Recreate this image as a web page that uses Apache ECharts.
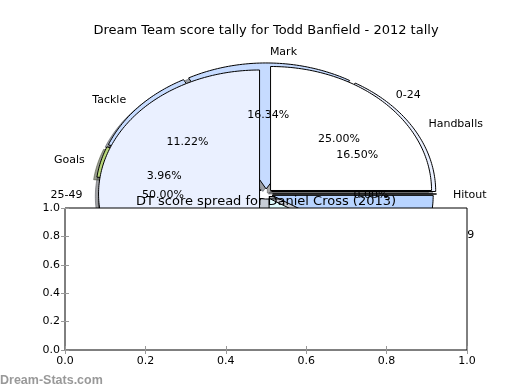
<!DOCTYPE html>
<html><head><meta charset="utf-8">
<script src="https://cdn.jsdelivr.net/npm/echarts@6/dist/echarts.min.js"></script>
<style>html,body{margin:0;padding:0;background:#fff}#c{width:520px;height:390px}</style>
</head><body><div id="c"></div>
<script>
// ---- data ----
const statLabels = ['Handballs', 'Mark', 'Tackle', 'Goals', 'Kicks', 'Hitout'];
const statPercents = [16.50, 16.34, 11.22, 3.96, 51.98, 0.00];
const statColors = ['#eaf0ff', '#c6dbff', '#c6dbff', '#b8d67a', '#c8cdd6', '#b8d4ff'];
const scoreLabels = ['0-24', '25-49', '50-74', '75-99'];
const scorePercents = [25.00, 50.00, 16.00, 9.00];
const scoreColors = ['#ffffff', '#eaf0ff', '#e0fcff', '#b8d4ff'];
const tickValues = [0, 0.2, 0.4, 0.6, 0.8, 1.0];
const tickLabels = ['0.0', '0.2', '0.4', '0.6', '0.8', '1.0'];

// ---- layout ----
const CX = 266, CY = 194;
const EXPLODE = 0.04, SHADOW = 0.02, LABEL_DIST = 1.1, PCT_DIST = 0.6, TEXT_DY = 1.5;
const FONT = '"DejaVu Sans", sans-serif';

function shadowColor(hex) {
  const n = parseInt(hex.slice(1), 16);
  const r = Math.round(((n >> 16) & 255) * 0.3), g = Math.round(((n >> 8) & 255) * 0.3), b = Math.round((n & 255) * 0.3);
  return 'rgba(' + r + ',' + g + ',' + b + ',0.5)';
}

function makePie(labels, values, colors, RX, RY, wedgeZ) {
  const total = values.reduce((a, b) => a + b, 0);
  const starts = [];
  let acc = 0;
  values.forEach(v => { starts.push(acc / total * 360); acc += v; });
  return {
    type: 'custom',
    coordinateSystem: 'none',
    silent: true,
    z: 1,
    data: values.map((v, i) => [i, v]),
    renderItem: function (params, api) {
      const i = params.dataIndex;
      const v = api.value(1);
      const t1 = starts[i];
      const t2 = t1 + v / total * 360;
      const tm = (t1 + t2) / 2 * Math.PI / 180;
      const ox = CX + EXPLODE * RX * Math.cos(tm);
      const oy = CY - EXPLODE * RY * Math.sin(tm);
      const pts = [[ox, oy]];
      const n = Math.max(2, Math.ceil(t2 - t1));
      for (let k = 0; k <= n; k++) {
        const a = (t1 + (t2 - t1) * k / n) * Math.PI / 180;
        pts.push([ox + RX * Math.cos(a), oy - RY * Math.sin(a)]);
      }
      const sh = pts.map(p => [p[0] - SHADOW * RX, p[1] + SHADOW * RY]);
      const sc = shadowColor(colors[i]);
      const lx = ox + LABEL_DIST * RX * Math.cos(tm);
      const ly = oy - LABEL_DIST * RY * Math.sin(tm) + TEXT_DY;
      const px = ox + PCT_DIST * RX * Math.cos(tm);
      const py = oy - PCT_DIST * RY * Math.sin(tm) + TEXT_DY;
      return {
        type: 'group',
        children: [
          { type: 'polygon', z2: 0, shape: { points: sh }, style: { fill: sc, stroke: sc, lineWidth: 1 } },
          { type: 'polygon', z2: wedgeZ, shape: { points: pts }, style: { fill: colors[i], stroke: '#000', lineWidth: 1, lineJoin: 'miter' } },
          { type: 'text', z2: 10, x: lx, y: ly, style: { text: labels[i], font: '11px ' + FONT, fill: '#000', align: (lx - CX) > 0 ? 'left' : 'right', verticalAlign: 'middle' } },
          { type: 'text', z2: 10, x: px, y: py, style: { text: (v / total * 100).toFixed(2) + '%', font: '11px ' + FONT, fill: '#000', align: 'center', verticalAlign: 'middle' } }
        ]
      };
    }
  };
}

const axisCommon = {
  type: 'value', min: 0, max: 1, interval: 0.2,
  axisLine: { show: false },
  splitLine: { show: false },
  axisTick: { show: true, inside: true, length: 4, lineStyle: { color: '#999', width: 1 } },
  z: 6
};
const fmt = v => { const i = tickValues.findIndex(t => Math.abs(t - v) < 1e-9); return i >= 0 ? tickLabels[i] : ''; };

const chart = echarts.init(document.getElementById('c'), null, { renderer: 'canvas' });
chart.setOption({
  animation: false,
  backgroundColor: '#fff',
  title: [
    { text: 'Dream Team score tally for Todd Banfield - 2012 tally', left: 266, top: 24, textAlign: 'center', padding: 0, z: 8,
      textStyle: { fontFamily: FONT, fontSize: 13, fontWeight: 'normal', color: '#000' } },
    { text: 'DT score spread for Daniel Cross (2013)', left: 266, top: 195, textAlign: 'center', padding: 0, z: 8,
      textStyle: { fontFamily: FONT, fontSize: 13, fontWeight: 'normal', color: '#000' } }
  ],
  grid: { left: 65, top: 208, width: 402, height: 142, show: true, backgroundColor: '#fff', borderColor: '#000', borderWidth: 1, z: 5 },
  xAxis: [
    Object.assign({}, axisCommon, { position: 'bottom', axisLabel: { formatter: fmt, color: '#000', fontSize: 11, fontFamily: FONT, margin: 6 } }),
    Object.assign({}, axisCommon, { position: 'top', axisLabel: { show: false } })
  ],
  yAxis: [
    Object.assign({}, axisCommon, { position: 'left', axisLabel: { formatter: fmt, color: '#000', fontSize: 11, fontFamily: FONT, margin: 5 } }),
    Object.assign({}, axisCommon, { position: 'right', axisLabel: { show: false } })
  ],
  graphic: [
    { type: 'text', left: 0, top: 374, z: 10, style: { text: 'Dream-Stats.com', font: 'bold 12.5px "Liberation Sans", sans-serif', fill: '#999' } }
  ],
  series: [
    makePie(statLabels, statPercents, statColors, 164, 126, 1),
    makePie(scoreLabels, scorePercents, scoreColors, 161, 124, 2)
  ]
});
</script>
</body></html>
